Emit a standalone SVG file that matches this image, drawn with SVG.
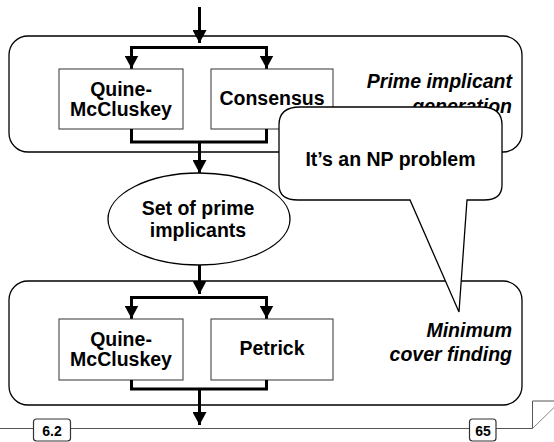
<svg xmlns="http://www.w3.org/2000/svg" width="554" height="442" viewBox="0 0 554 442">
  <style>
    .panel { fill: #ffffff; stroke: #000000; stroke-width: 1.3; }
    .box { fill: #ffffff; stroke: #444444; stroke-width: 1.1; }
    .flow { fill: none; stroke: #000000; stroke-width: 3; stroke-linejoin: miter; stroke-linecap: butt; }
    .label { font-family: "Liberation Sans", Arial, sans-serif; font-weight: bold; font-size: 19.5px; fill: #000000; text-anchor: middle; }
    .caption { font-family: "Liberation Sans", Arial, sans-serif; font-weight: bold; font-style: italic; font-size: 19.5px; fill: #000000; text-anchor: end; }
    .footer { fill: none; stroke: #555555; stroke-width: 1; }
    .tag { fill: #ffffff; stroke: #333333; stroke-width: 1.2; }
    .tagtext { font-family: "Liberation Sans", Arial, sans-serif; font-weight: bold; font-size: 14px; fill: #000000; text-anchor: middle; }
    .callout { fill: #ffffff; stroke: #000000; stroke-width: 1.3; stroke-linejoin: miter; }
  </style>
  <defs>
    <marker id="arrow" markerUnits="userSpaceOnUse" markerWidth="14" markerHeight="14" viewBox="0 0 14 14" refX="13" refY="7" orient="auto">
      <path d="M0,0 L13,7 L0,14 Z" fill="#000000"/>
    </marker>
  </defs>

  <!-- stage panels -->
  <g id="panel-generation">
    <rect class="panel" x="9" y="36" width="513" height="116" rx="19" ry="19"/>
    <text class="caption" x="512" y="88">Prime implicant</text>
    <text class="caption" x="512" y="113">generation</text>
  </g>
  <g id="panel-cover">
    <rect class="panel" x="9" y="281" width="513" height="124" rx="19" ry="19"/>
    <text class="caption" x="512" y="337">Minimum</text>
    <text class="caption" x="512" y="361">cover finding</text>
  </g>

  <!-- method boxes -->
  <g id="qm-top">
    <rect class="box" x="59" y="69" width="124" height="60"/>
    <text class="label" x="121" y="96">Quine-</text>
    <text class="label" x="121" y="116">McCluskey</text>
  </g>
  <g id="consensus">
    <rect class="box" x="211" y="69" width="122" height="60"/>
    <text class="label" x="272" y="105">Consensus</text>
  </g>
  <g id="prime-set">
    <ellipse class="panel" cx="199" cy="219" rx="91" ry="46"/>
    <text class="label" x="198" y="215">Set of prime</text>
    <text class="label" x="198" y="237">implicants</text>
  </g>
  <g id="qm-bottom">
    <rect class="box" x="59" y="319" width="124" height="61"/>
    <text class="label" x="121" y="346">Quine-</text>
    <text class="label" x="121" y="366">McCluskey</text>
  </g>
  <g id="petrick">
    <rect class="box" x="211" y="319" width="122" height="61"/>
    <text class="label" x="272" y="355">Petrick</text>
  </g>

  <!-- connectors -->
  <g id="connectors">
    <path class="flow" d="M199.5,7 V43" marker-end="url(#arrow)"/>
    <path class="flow" d="M131.5,68.5 V47.5 H266.5 V68.5"/>
    <path class="flow" d="M131.5,56 V68.5" marker-end="url(#arrow)"/>
    <path class="flow" d="M266.5,56 V68.5" marker-end="url(#arrow)"/>
    <path class="flow" d="M131.5,129 V142 H266.5 V129"/>
    <path class="flow" d="M199.5,142 V173" marker-end="url(#arrow)"/>
    <path class="flow" d="M199.5,265 V294" marker-end="url(#arrow)"/>
    <path class="flow" d="M131.5,318.5 V297.5 H266.5 V318.5"/>
    <path class="flow" d="M131.5,306 V318.5" marker-end="url(#arrow)"/>
    <path class="flow" d="M266.5,306 V318.5" marker-end="url(#arrow)"/>
    <path class="flow" d="M131.5,380 V389 H266.5 V380"/>
    <path class="flow" d="M199.5,389 V425" marker-end="url(#arrow)"/>
  </g>

  <!-- speech bubble -->
  <g id="np-callout">
    <path class="callout" d="M300,107 H481 Q502,107 502,125 V185 Q502,200 484,200 H467 L459,312 L410,200 H298 Q279,200 279,185 V125 Q279,107 300,107 Z"/>
    <text class="label" x="390.5" y="166">It’s an NP problem</text>
  </g>

  <!-- page footer -->
  <g id="footer">
    <path class="footer" d="M0,428.5 H33 M71,428.5 H469 M496,428.5 H532.5 V401 H554"/>
    <path d="M532.5,428.5 L554,407.5" fill="none" stroke="#888888" stroke-width="1"/>
    <rect class="tag" x="33.5" y="419" width="37" height="22" rx="3" ry="3"/>
    <text class="tagtext" x="52" y="436">6.2</text>
    <rect class="tag" x="469.5" y="419" width="26.5" height="22" rx="3" ry="3"/>
    <text class="tagtext" x="483" y="436">65</text>
  </g>
</svg>
